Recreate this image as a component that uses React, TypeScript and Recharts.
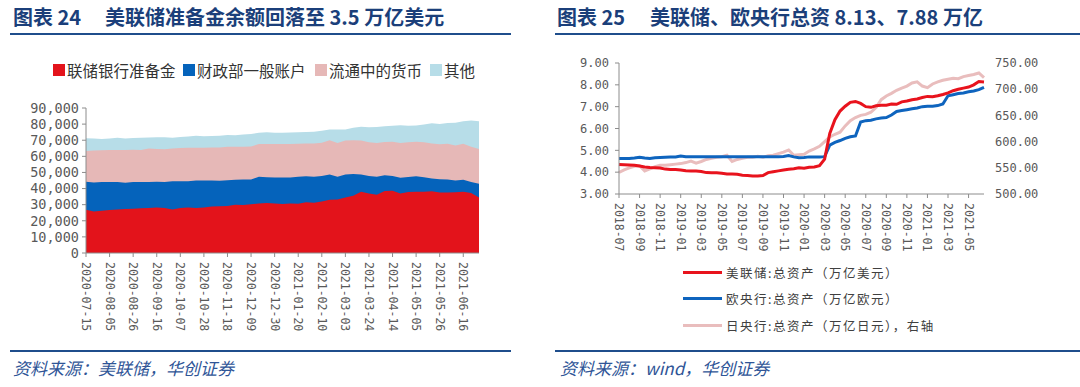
import React from "react"
import { Area, AreaChart, Line, LineChart, XAxis, YAxis } from "recharts"

// ---- left chart: Fed liabilities, weekly, stacked levels (read as cumulative tops) ----
const weeks = [
  "2020-07-15", "2020-07-22", "2020-07-29", "2020-08-05", "2020-08-12", "2020-08-19", "2020-08-26",
  "2020-09-02", "2020-09-09", "2020-09-16", "2020-09-23", "2020-09-30", "2020-10-07", "2020-10-14",
  "2020-10-21", "2020-10-28", "2020-11-04", "2020-11-11", "2020-11-18", "2020-11-25", "2020-12-02",
  "2020-12-09", "2020-12-16", "2020-12-23", "2020-12-30", "2021-01-06", "2021-01-13", "2021-01-20",
  "2021-01-27", "2021-02-03", "2021-02-10", "2021-02-17", "2021-02-24", "2021-03-03", "2021-03-10",
  "2021-03-17", "2021-03-24", "2021-03-31", "2021-04-07", "2021-04-14", "2021-04-21", "2021-04-28",
  "2021-05-05", "2021-05-12", "2021-05-19", "2021-05-26", "2021-06-02", "2021-06-09", "2021-06-16",
  "2021-06-23", "2021-06-30",
]
// 联储银行准备金
const reservesTop = [
  26800, 25800, 26300, 26700, 27000, 27300, 27400, 27800, 28000, 28200, 28000, 27000, 27900, 28200,
  28000, 28300, 28800, 29000, 29200, 30000, 29800, 30200, 30800, 31000, 30700, 30400, 30800, 30600,
  31500, 31200, 32000, 33000, 33200, 34500, 35500, 38000, 37000, 36200, 38500, 38700, 37000, 37800,
  38000, 38000, 38400, 37600, 37600, 37700, 38000, 37200, 34500,
]
// + 财政部一般账户
const tgaTop = [
  44200, 43800, 44000, 44000, 44000, 43600, 44000, 44000, 44100, 44300, 44100, 44500, 44600, 44600,
  45000, 45000, 45000, 44800, 45200, 45500, 45600, 45600, 47300, 47000, 46800, 46800, 46800, 47300,
  47700, 47300, 47800, 48800, 47300, 48800, 49000, 48800, 47800, 47300, 48200, 47800, 46700, 47200,
  47600, 47000, 46200, 45700, 45600, 45000, 45500, 44000, 43000,
]
// + 流通中的货币
const currencyTop = [
  63300, 63600, 63800, 63900, 64000, 63900, 64100, 64000, 64900, 64500, 64400, 64900, 65200, 65300,
  65300, 65400, 65500, 65500, 65900, 66000, 66000, 66100, 67700, 67700, 67700, 67700, 67700, 67800,
  68000, 68000, 68500, 70000, 68200, 69800, 70000, 69800, 68800, 68300, 68900, 69000, 68300, 68800,
  69100, 68800, 68000, 67500, 67800, 66700, 67800, 66000, 64500,
]
// + 其他
const otherTop = [
  71200, 71100, 70800, 71100, 71500, 71000, 71400, 71500, 71700, 71800, 71900, 71500, 72000, 72300,
  72700, 72500, 72600, 72800, 73300, 73100, 73500, 73800, 74700, 75000, 74600, 74600, 74800, 75000,
  75100, 75300, 75900, 76700, 76600, 76700, 77800, 78300, 78000, 78200, 78700, 79000, 79300, 79000,
  79200, 79800, 80500, 80000, 80700, 80800, 81800, 82200, 81800,
]
const leftTicks = [0, 10000, 20000, 30000, 40000, 50000, 60000, 70000, 80000, 90000]

// ---- right chart: central bank total assets, half-monthly ----
const months = [
  "2018-07", "2018-08", "2018-09", "2018-10", "2018-11", "2018-12",
  "2019-01", "2019-02", "2019-03", "2019-04", "2019-05", "2019-06",
  "2019-07", "2019-08", "2019-09", "2019-10", "2019-11", "2019-12",
  "2020-01", "2020-02", "2020-03", "2020-04", "2020-05", "2020-06",
  "2020-07", "2020-08", "2020-09", "2020-10", "2020-11", "2020-12",
  "2021-01", "2021-02", "2021-03", "2021-04", "2021-05", "2021-06",
]
const fedAssets = [
  4.35, 4.34, 4.33, 4.32, 4.28, 4.24, 4.21, 4.2, 4.19, 4.14, 4.12, 4.12, 4.1, 4.07, 4.05, 4.05,
  4.03, 3.98, 3.97, 3.97, 3.95, 3.92, 3.92, 3.9, 3.86, 3.85, 3.82, 3.82, 3.85, 3.98, 4.02, 4.06,
  4.1, 4.13, 4.16, 4.2, 4.18, 4.22, 4.24, 4.3, 4.6, 5.77, 6.4, 6.8, 7.02, 7.2, 7.24, 7.15,
  7.0, 6.97, 7.04, 7.06, 7.07, 7.12, 7.11, 7.22, 7.26, 7.32, 7.35, 7.42, 7.47, 7.45, 7.5, 7.56,
  7.63, 7.73, 7.8, 7.85, 7.9, 8.0, 8.15, 8.13,
]
const ecbAssets = [
  4.63, 4.63, 4.63, 4.65, 4.68, 4.65, 4.63, 4.66, 4.67, 4.68, 4.69, 4.7, 4.74, 4.71, 4.71, 4.71,
  4.71, 4.71, 4.71, 4.71, 4.71, 4.71, 4.71, 4.71, 4.71, 4.71, 4.71, 4.71, 4.71, 4.71, 4.71, 4.71,
  4.72, 4.76, 4.7, 4.66, 4.67, 4.7, 4.7, 4.7, 4.71, 5.24, 5.36, 5.45, 5.55, 5.62, 5.66, 6.3,
  6.36, 6.38, 6.44, 6.48, 6.5, 6.62, 6.78, 6.82, 6.86, 6.9, 6.94, 7.0, 7.02, 7.02, 7.05, 7.12,
  7.5, 7.55, 7.6, 7.63, 7.68, 7.72, 7.78, 7.88,
]
const bojAssets = [
  541, 546, 550, 553, 554, 544, 548, 552, 555, 555, 556, 557, 558, 560, 563, 559,
  562, 566, 568, 570, 571, 574, 562, 566, 568, 570, 570, 572, 570, 573, 574, 577,
  580, 584, 574, 575, 576, 582, 586, 591, 600, 609, 614, 618, 630, 640, 646, 650,
  652, 656, 665, 680, 687, 692, 698, 702, 706, 712, 714, 706, 703, 710, 714, 717,
  719, 721, 720, 724, 726, 728, 731, 722,
]
const rightLeftTicks = [3, 4, 5, 6, 7, 8, 9]
const rightRightTicks = [500, 550, 600, 650, 700, 750]

const leftData = weeks.map((d, i) => ({
  date: d,
  reserves: reservesTop[i],
  tga: tgaTop[i],
  currency: currencyTop[i],
  other: otherTop[i],
}))

const halfDates: string[] = []
months.forEach((m) => {
  halfDates.push(m + "-01")
  halfDates.push(m + "-16")
})
const rightData = halfDates.map((d, i) => ({
  date: d,
  fed: fedAssets[i],
  ecb: ecbAssets[i],
  boj: bojAssets[i],
}))

const NAVY = "#1B3F7A"
const AXIS = "#8c8c8c"
const TICK = "#595959"
const MONO = "'DejaVu Sans Mono', monospace"
const CJK = "'Noto Sans CJK SC', sans-serif"

const VTick = ({ x, y, payload, short }: any) => (
  <text
    transform={`translate(${x},${y + 1}) rotate(90)`}
    textAnchor="start"
    dominantBaseline="central"
    fontSize={11.5}
    fill={TICK}
    fontFamily={MONO}
  >
    {short ? String(payload.value).slice(0, 7) : payload.value}
  </text>
)

const legendLeft = [
  { name: "联储银行准备金", color: "#E3131B", x: 53 },
  { name: "财政部一般账户", color: "#0563BB", x: 183 },
  { name: "流通中的货币", color: "#E6B8B7", x: 315 },
  { name: "其他", color: "#B7DDE8", x: 430 },
]

const legendRight = [
  { name: "美联储:总资产（万亿美元）", color: "#E8131D", y: 272 },
  { name: "欧央行:总资产（万亿欧元）", color: "#0E64BE", y: 298 },
  { name: "日央行:总资产（万亿日元），右轴", color: "#E9BDBD", y: 325 },
]

const abs = (s: any) => ({ position: "absolute" as const, ...s })

export default function App() {
  return (
    <div style={abs({ left: 0, top: 0, width: 1080, height: 387, background: "#fff", overflow: "hidden", fontFamily: CJK })}>
      {/* titles */}
      <div style={abs({ left: 13, top: 3, fontSize: 20, fontWeight: 700, color: NAVY, whiteSpace: "nowrap", lineHeight: "28px" })}>
        图表 24
      </div>
      <div style={abs({ left: 105, top: 3, fontSize: 20, fontWeight: 700, color: NAVY, whiteSpace: "nowrap", lineHeight: "28px" })}>
        美联储准备金余额回落至 3.5 万亿美元
      </div>
      <div style={abs({ left: 557, top: 3, fontSize: 20, fontWeight: 700, color: NAVY, whiteSpace: "nowrap", lineHeight: "28px" })}>
        图表 25
      </div>
      <div style={abs({ left: 650, top: 3, fontSize: 20, fontWeight: 700, color: NAVY, whiteSpace: "nowrap", lineHeight: "28px" })}>
        美联储、欧央行总资 8.13、7.88 万亿
      </div>
      <div style={abs({ left: 10, top: 33, width: 501, height: 2, background: "#1F4E8C" })} />
      <div style={abs({ left: 555, top: 33, width: 525, height: 2, background: "#1F4E8C" })} />

      {/* left legend */}
      {legendLeft.map((l) => (
        <div key={l.name} style={abs({ left: l.x, top: 60, height: 20, display: "flex", alignItems: "center", whiteSpace: "nowrap" })}>
          <span style={{ width: 12, height: 12, background: l.color, display: "inline-block", marginRight: 2 }} />
          <span style={{ fontSize: 15.5, color: "#333" }}>{l.name}</span>
        </div>
      ))}

      {/* left chart */}
      <div style={abs({ left: 0, top: 100 })}>
        <AreaChart width={540} height={250} data={leftData} margin={{ top: 8, right: 61, bottom: 0, left: 0 }}>
          <YAxis
            width={86}
            domain={[0, 90000]}
            ticks={leftTicks}
            interval={0}
            tickSize={4}
            tickMargin={3}
            stroke={AXIS}
            tick={{ fill: TICK, fontSize: 13.5, fontFamily: MONO }}
            tickFormatter={(v: number) => v.toLocaleString("en-US")}
          />
          <XAxis
            dataKey="date"
            height={97}
            interval={2}
            tickSize={4}
            tickMargin={4}
            stroke={AXIS}
            tick={<VTick />}
          />
          <Area type="linear" dataKey="other" stroke="none" fill="#B7DDE8" fillOpacity={1} isAnimationActive={false} />
          <Area type="linear" dataKey="currency" stroke="none" fill="#E6B8B7" fillOpacity={1} isAnimationActive={false} />
          <Area type="linear" dataKey="tga" stroke="none" fill="#0563BB" fillOpacity={1} isAnimationActive={false} />
          <Area type="linear" dataKey="reserves" stroke="none" fill="#E3131B" fillOpacity={1} isAnimationActive={false} />
        </AreaChart>
      </div>

      {/* right chart */}
      <div style={abs({ left: 540, top: 50 })}>
        <LineChart width={540} height={220} data={rightData} margin={{ top: 13, right: 0, bottom: 0, left: 0 }}>
          <YAxis
            yAxisId="l"
            width={79}
            domain={[3, 9]}
            ticks={rightLeftTicks}
            interval={0}
            tickSize={4}
            tickMargin={6}
            stroke={AXIS}
            tick={{ fill: TICK, fontSize: 12, fontFamily: MONO }}
            tickFormatter={(v: number) => v.toFixed(2)}
          />
          <YAxis
            yAxisId="r"
            orientation="right"
            width={96}
            domain={[500, 750]}
            ticks={rightRightTicks}
            interval={0}
            axisLine={false}
            tickLine={false}
            tickSize={4}
            tickMargin={7}
            tick={{ fill: TICK, fontSize: 12, fontFamily: MONO }}
            tickFormatter={(v: number) => v.toFixed(2)}
          />
          <XAxis
            dataKey="date"
            height={76}
            interval={3}
            tickSize={4}
            tickMargin={4}
            stroke={AXIS}
            tick={<VTick short />}
          />
          <Line yAxisId="r" type="linear" dataKey="boj" stroke="#E9BDBD" strokeWidth={3} dot={false} isAnimationActive={false} />
          <Line yAxisId="l" type="linear" dataKey="ecb" stroke="#0E64BE" strokeWidth={3} dot={false} isAnimationActive={false} />
          <Line yAxisId="l" type="linear" dataKey="fed" stroke="#E8131D" strokeWidth={3} dot={false} isAnimationActive={false} />
        </LineChart>
      </div>

      {/* right legend */}
      {legendRight.map((l) => (
        <div key={l.name} style={abs({ left: 683, top: l.y - 10, height: 20, display: "flex", alignItems: "center", whiteSpace: "nowrap" })}>
          <span style={{ width: 39, height: 3, background: l.color, display: "inline-block", marginRight: 4 }} />
          <span style={{ fontSize: 12.5, color: "#404040", letterSpacing: 1.5 }}>{l.name}</span>
        </div>
      ))}

      {/* sources */}
      <div style={abs({ left: 10, top: 350, width: 501, height: 2, background: "#1F4E8C" })} />
      <div style={abs({ left: 555, top: 350, width: 525, height: 2, background: "#1F4E8C" })} />
      <div style={abs({ left: 13, top: 356, fontSize: 17, fontStyle: "italic", color: "#2F5597", whiteSpace: "nowrap", lineHeight: "24px" })}>
        资料来源：美联储，华创证券
      </div>
      <div style={abs({ left: 560, top: 356, fontSize: 17, fontStyle: "italic", color: "#2F5597", whiteSpace: "nowrap", lineHeight: "24px" })}>
        资料来源：wind，华创证券
      </div>
    </div>
  )
}
